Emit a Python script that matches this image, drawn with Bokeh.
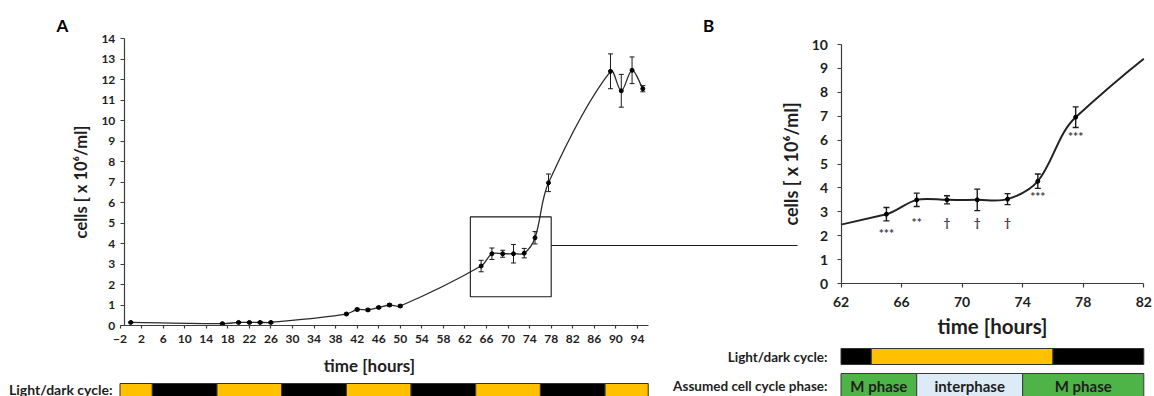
import numpy as np
from bokeh.plotting import figure
from bokeh.models import Range1d, FixedTicker, LinearAxis
from bokeh.embed import file_html
from bokeh.resources import INLINE
from bokeh.core.properties import value

FONT = "Lato"
INK = "#1e1e1e"
AXIS = "#3c3c3c"

# ---------------- data ----------------
TIME_H = [0, 17, 20, 22, 24, 26, 40, 42, 44, 46, 48, 50,
          65, 67, 69, 71, 73, 75, 77.5, 89, 91, 93, 95]
CELLS = [0.15, 0.09, 0.15, 0.15, 0.15, 0.15, 0.56, 0.78, 0.76, 0.88, 1.00, 0.95,
         2.90, 3.50, 3.50, 3.50, 3.53, 4.28, 6.96, 12.40, 11.45, 12.45, 11.55]
CELLS_SD = [0.03, 0.03, 0.04, 0.04, 0.04, 0.04, 0.04, 0.06, 0.05, 0.05, 0.06, 0.05,
            0.28, 0.28, 0.17, 0.45, 0.23, 0.30, 0.43, 0.85, 0.80, 0.65, 0.15]

X_TICKS_A = list(range(-2, 95, 4))
Y_TICKS_A = list(range(0, 15))
X_TICKS_B = [62, 66, 70, 74, 78, 82]
Y_TICKS_B = list(range(0, 11))

ZOOM_HOURS = [63, 78]
ZOOM_CELLS = [1.4, 5.3]
LINK_CELLS = 3.9

SIG_TIME = [65, 67, 69, 71, 73, 75, 77.5]
SIG_MARK = ["***", "**", "\u2020", "\u2020", "\u2020", "***", "***"]
SIG_CELLS = [2.10, 2.57, 2.57, 2.57, 2.57, 3.64, 6.15]

LD_START = [-2, 4, 16, 28, 40, 52, 64, 76, 88]
LD_END = [4, 16, 28, 40, 52, 64, 76, 88, 96]
LD_STATE = ["light", "dark", "light", "dark", "light", "dark", "light", "dark", "light"]

CC_START = [62, 67, 74]
CC_END = [67, 74, 82]
CC_PHASE = ["M phase", "interphase", "M phase"]

LD_COLOR = {"light": "#FFC000", "dark": "#000000"}
CC_COLOR = {"M phase": "#4FB447", "interphase": "#DDEBF7"}

# ---------------- canvas geometry (pixels) ----------------
W, H = 1154, 396
A_X0_PX, A_PX_H = 119.5, 5.39       # hour -2 position, px per hour
A_Y0_PX, A_PX_Y = 325.0, 20.5       # 0 cells position, px per unit
B_X0_PX, B_PX_H = 840.5, 15.14      # hour 62 position
B_Y0_PX, B_PX_Y = 283.0, 23.9

a_start = -2 - A_X0_PX / A_PX_H
b_start = 62 - B_X0_PX / B_PX_H

p = figure(width=W, height=H, output_backend="svg", toolbar_location=None,
           x_range=Range1d(0, W), y_range=Range1d(H, 0),
           x_axis_type=None, y_axis_type=None,
           min_border=0, min_border_left=0, min_border_right=0,
           min_border_top=0, min_border_bottom=0)
p.outline_line_color = None
p.background_fill_color = "white"
p.border_fill_color = "white"
p.extra_x_ranges = {
    "ax": Range1d(a_start, a_start + W / A_PX_H),
    "bx": Range1d(b_start, b_start + W / B_PX_H),
}
p.extra_y_ranges = {
    "ay": Range1d(-(H - A_Y0_PX) / A_PX_Y, A_Y0_PX / A_PX_Y),
    "by": Range1d(-(H - B_Y0_PX) / B_PX_Y, B_Y0_PX / B_PX_Y),
}
A = dict(x_range_name="ax", y_range_name="ay")
B = dict(x_range_name="bx", y_range_name="by")


# ---------------- smoothed line (Bezier, control points in screen space) ----------------
def bezier_segments(xs, ys, sx, sy):
    P = np.column_stack([np.asarray(xs, float) * sx, np.asarray(ys, float) * sy])
    d = np.hypot(*(P[1:] - P[:-1]).T)
    m = np.zeros_like(P)
    m[0] = (P[1] - P[0]) / d[0]
    m[-1] = (P[-1] - P[-2]) / d[-1]
    for i in range(1, len(P) - 1):
        m[i] = (P[i + 1] - P[i - 1]) / (d[i - 1] + d[i])
    c0 = P[:-1] + m[:-1] * d[:, None] / 3.0
    c1 = P[1:] - m[1:] * d[:, None] / 3.0
    scale = np.array([sx, sy])
    return [(P[i] / scale, c0[i] / scale, c1[i] / scale, P[i + 1] / scale)
            for i in range(len(P) - 1)]


def split(seg, t):
    p0, c0, c1, p1 = seg
    a = p0 + (c0 - p0) * t
    b = c0 + (c1 - c0) * t
    c = c1 + (p1 - c1) * t
    d = a + (b - a) * t
    e = b + (c - b) * t
    f = d + (e - d) * t
    return (p0, a, d, f), (f, e, c, p1)


def x_at(seg, t):
    p0, c0, c1, p1 = seg
    u = 1 - t
    return u ** 3 * p0[0] + 3 * u * u * t * c0[0] + 3 * u * t * t * c1[0] + t ** 3 * p1[0]


def t_for_x(seg, x):
    lo, hi = 0.0, 1.0
    for _ in range(60):
        mid = 0.5 * (lo + hi)
        if x_at(seg, mid) < x:
            lo = mid
        else:
            hi = mid
    return 0.5 * (lo + hi)


def clip_segments(segs, xmin, xmax):
    out = []
    for seg in segs:
        if seg[3][0] <= xmin or seg[0][0] >= xmax:
            continue
        if seg[0][0] < xmin:
            seg = split(seg, t_for_x(seg, xmin))[1]
        if seg[3][0] > xmax:
            seg = split(seg, t_for_x(seg, xmax))[0]
        out.append(seg)
    return out


def draw_curve(segs, names, color, width):
    p.bezier(x0=[s[0][0] for s in segs], y0=[s[0][1] for s in segs],
             x1=[s[3][0] for s in segs], y1=[s[3][1] for s in segs],
             cx0=[s[1][0] for s in segs], cy0=[s[1][1] for s in segs],
             cx1=[s[2][0] for s in segs], cy1=[s[2][1] for s in segs],
             line_color=color, line_width=width, **names)


def draw_points(ts, cs, es, names, marker_size, cap_size, bar_w):
    lo = [c - e for c, e in zip(cs, es)]
    hi = [c + e for c, e in zip(cs, es)]
    p.segment(x0=ts, y0=lo, x1=ts, y1=hi, line_color="#1a1a1a", line_width=bar_w, **names)
    p.scatter(x=ts + ts, y=lo + hi, marker="dash", size=cap_size,
              line_color="#1a1a1a", line_width=bar_w, **names)
    p.scatter(x=ts, y=cs, marker="circle", size=marker_size,
              fill_color="black", line_color="black", **names)


def style_axis(ax, size, tick_out, standoff, label_size=None, label_standoff=None):
    ax.axis_line_color = AXIS
    ax.axis_line_width = 1.2
    ax.major_tick_line_color = AXIS
    ax.major_tick_line_width = 1.2
    ax.major_tick_in = 0
    ax.major_tick_out = tick_out
    ax.minor_tick_line_color = None
    ax.major_label_text_font = FONT
    ax.major_label_text_font_style = "bold"
    ax.major_label_text_font_size = size
    ax.major_label_text_color = INK
    ax.major_label_standoff = standoff
    ax.axis_label_text_font = FONT
    ax.axis_label_text_font_style = "bold"
    ax.axis_label_text_color = INK
    if label_size:
        ax.axis_label_text_font_size = label_size
        ax.axis_label_standoff = label_standoff


def add_text(x, y, text, size, align="center", names=None, color=INK, angle=0.0):
    p.text(x=x, y=y, text=text, angle=angle, text_align=align, text_baseline="middle",
           text_font=value(FONT), text_font_style="bold", text_font_size=size,
           text_color=color, **(names or {}))


# ---------------- panel A ----------------
ax_x = LinearAxis(fixed_location=0, bounds=(-2, 96), ticker=FixedTicker(ticks=X_TICKS_A), **A)
style_axis(ax_x, "12px", 3, 6)
p.add_layout(ax_x, "below")
ax_y = LinearAxis(fixed_location=-1.2, bounds=(0, 14), ticker=FixedTicker(ticks=Y_TICKS_A),
                  axis_label="cells [ x 10\u2076/ml]", **A)
style_axis(ax_y, "12px", 4, 5, "16.5px", 8)
p.add_layout(ax_y, "left")

draw_curve(bezier_segments(TIME_H, CELLS, A_PX_H, A_PX_Y), A, "#2b2b2b", 1.3)
draw_points(TIME_H, CELLS, CELLS_SD, A, 4, 5, 1.0)

p.quad(left=[ZOOM_HOURS[0]], right=[ZOOM_HOURS[1]], bottom=[ZOOM_CELLS[0]], top=[ZOOM_CELLS[1]],
       fill_color=None, line_color="#1a1a1a", line_width=1.1, **A)
link_end_hour = a_start + 797 / A_PX_H
p.segment(x0=[ZOOM_HOURS[1]], y0=[LINK_CELLS], x1=[link_end_hour], y1=[LINK_CELLS],
          line_color="#1a1a1a", line_width=1.1, **A)

add_text([369], [365], ["time [hours]"], "17px")
add_text([62, 708], [25, 25], ["A", "B"], "17px", color="black")

# ---------------- panel B ----------------
bx_x = LinearAxis(fixed_location=0, bounds=(62, 82), ticker=FixedTicker(ticks=X_TICKS_B),
                  axis_label="time [hours]", **B)
style_axis(bx_x, "14px", 4, 9, "20.5px", 4)
p.add_layout(bx_x, "below")
bx_y = LinearAxis(fixed_location=62, bounds=(0, 10), ticker=FixedTicker(ticks=Y_TICKS_B),
                  axis_label="cells [ x 10\u2076/ml]", **B)
style_axis(bx_y, "14px", 4, 9, "18px", 7)
p.add_layout(bx_y, "left")

draw_curve(clip_segments(bezier_segments(TIME_H, CELLS, B_PX_H, B_PX_Y), 62, 82),
           B, "#222222", 2.0)
inside = [i for i, t in enumerate(TIME_H) if 62 <= t <= 82]
draw_points([TIME_H[i] for i in inside], [CELLS[i] for i in inside],
            [CELLS_SD[i] for i in inside], B, 4, 6, 1.4)
add_text(SIG_TIME, SIG_CELLS, SIG_MARK, "12px", names=B, color="#3d3d4a")

# ---------------- light/dark cycle under A ----------------
p.quad(left=LD_START, right=LD_END, top=383, bottom=H + 2,
       fill_color=[LD_COLOR[s] for s in LD_STATE], line_color="#333333", line_width=1,
       x_range_name="ax")
add_text([112], [388.5], ["Light/dark cycle:"], "14px", align="right")

# ---------------- light/dark cycle and cell cycle phase under B ----------------
b_lo, b_hi = 62, 82
keep = [i for i in range(len(LD_START)) if LD_END[i] > b_lo and LD_START[i] < b_hi]
p.quad(left=[max(LD_START[i], b_lo) for i in keep], right=[min(LD_END[i], b_hi) for i in keep],
       top=348, bottom=364, fill_color=[LD_COLOR[LD_STATE[i]] for i in keep],
       line_color="#333333", line_width=1, x_range_name="bx")
p.quad(left=CC_START, right=CC_END, top=373, bottom=H + 2,
       fill_color=[CC_COLOR[c] for c in CC_PHASE], line_color="#3a3a3a", line_width=1,
       x_range_name="bx")
add_text([(s + e) / 2 for s, e in zip(CC_START, CC_END)], [385] * 3, CC_PHASE, "15px",
         names={"x_range_name": "bx"})
add_text([827, 827], [356, 385], ["Light/dark cycle:", "Assumed cell cycle phase:"], "13.5px",
         align="right")

with open("out.html", "w") as f:
    f.write(file_html(p, INLINE))
